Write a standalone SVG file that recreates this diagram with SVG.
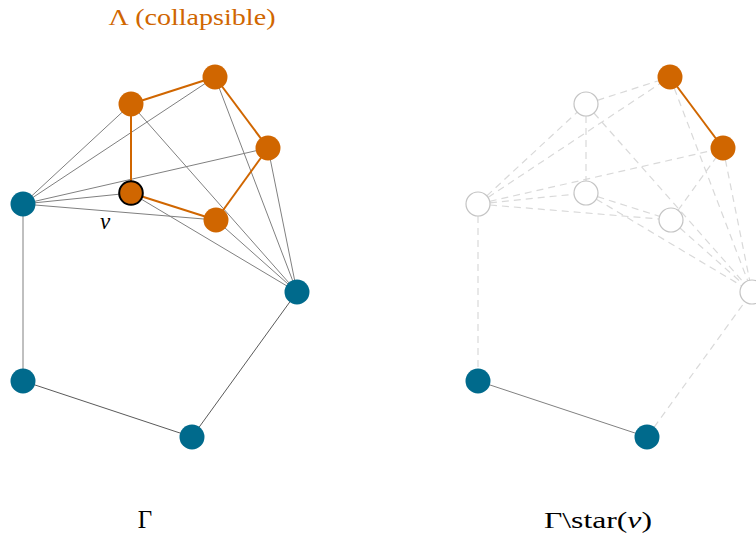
<svg xmlns="http://www.w3.org/2000/svg" width="756" height="541" viewBox="0 0 756 541">
<style>
.e{stroke:#808080;stroke-width:1;fill:none}
.ed{stroke:#5a5a5a;stroke-width:1;fill:none}
.eo{stroke:#D06600;stroke-width:2;fill:none}
.dash{stroke:#d9d9d9;stroke-width:1.2;stroke-dasharray:7 5;fill:none}
.teal{fill:#006A8C}
.or{fill:#D06600}
.ghost{fill:#ffffff;stroke:#c4c4c4;stroke-width:1.2}
.t{font-family:'Liberation Serif','Times New Roman',Times,serif;fill:#000}
</style>
<rect width="756" height="541" fill="#ffffff"/>
<g id="connectors">
<line class="e" x1="23" y1="204" x2="131" y2="104"/>
<line class="e" x1="23" y1="204" x2="215" y2="77"/>
<line class="e" x1="23" y1="204" x2="268" y2="148"/>
<line class="e" x1="23" y1="204" x2="131" y2="193"/>
<line class="e" x1="23" y1="204" x2="216" y2="220"/>
<line class="e" x1="131" y1="104" x2="297" y2="292"/>
<line class="e" x1="215" y1="77" x2="297" y2="292"/>
<line class="e" x1="268" y1="148" x2="297" y2="292"/>
<line class="e" x1="131" y1="193" x2="297" y2="292"/>
<line class="e" x1="216" y1="220" x2="297" y2="292"/>
<line class="e" x1="23" y1="204" x2="23" y2="381"/>
<line class="ed" x1="23" y1="381" x2="192" y2="437"/>
<line class="ed" x1="192" y1="437" x2="297" y2="292"/>
<line class="eo" x1="131" y1="104" x2="215" y2="77"/>
<line class="eo" x1="215" y1="77" x2="268" y2="148"/>
<line class="eo" x1="268" y1="148" x2="216" y2="220"/>
<line class="eo" x1="216" y1="220" x2="131" y2="193"/>
<line class="eo" x1="131" y1="193" x2="131" y2="104"/>
<line class="dash" x1="478" y1="204" x2="586" y2="104"/>
<line class="dash" x1="478" y1="204" x2="670" y2="77"/>
<line class="dash" x1="478" y1="204" x2="723" y2="148"/>
<line class="dash" x1="478" y1="204" x2="586" y2="193"/>
<line class="dash" x1="478" y1="204" x2="671" y2="220"/>
<line class="dash" x1="586" y1="104" x2="752" y2="292"/>
<line class="dash" x1="670" y1="77" x2="752" y2="292"/>
<line class="dash" x1="723" y1="148" x2="752" y2="292"/>
<line class="dash" x1="586" y1="193" x2="752" y2="292"/>
<line class="dash" x1="671" y1="220" x2="752" y2="292"/>
<line class="dash" x1="586" y1="104" x2="670" y2="77"/>
<line class="dash" x1="586" y1="104" x2="586" y2="193"/>
<line class="dash" x1="586" y1="193" x2="671" y2="220"/>
<line class="dash" x1="671" y1="220" x2="723" y2="148"/>
<line class="dash" x1="478" y1="204" x2="478" y2="381"/>
<line class="dash" x1="647" y1="437" x2="752" y2="292"/>
<line class="e" x1="478" y1="381" x2="647" y2="437"/>
<line class="eo" x1="670" y1="77" x2="723" y2="148"/>
</g>
<g id="left-A"><circle class="teal" cx="23" cy="204" r="12.5"/></g>
<g id="left-B"><circle class="or" cx="131" cy="104" r="12.5"/></g>
<g id="left-C"><circle class="or" cx="215" cy="77" r="12.5"/></g>
<g id="left-D"><circle class="or" cx="268" cy="148" r="12.5"/></g>
<g id="left-v"><circle class="or" cx="131" cy="193" r="11.8" stroke="#000" stroke-width="2"/></g>
<g id="left-E"><circle class="or" cx="216" cy="220" r="12.5"/></g>
<g id="left-F"><circle class="teal" cx="297" cy="292" r="12.5"/></g>
<g id="left-G"><circle class="teal" cx="23" cy="381" r="12.5"/></g>
<g id="left-H"><circle class="teal" cx="192" cy="437" r="12.5"/></g>
<g id="right-A"><circle class="ghost" cx="478" cy="204" r="12"/></g>
<g id="right-B"><circle class="ghost" cx="586" cy="104" r="12"/></g>
<g id="right-C"><circle class="or" cx="670" cy="77" r="12.5"/></g>
<g id="right-D"><circle class="or" cx="723" cy="148" r="12.5"/></g>
<g id="right-v"><circle class="ghost" cx="586" cy="193" r="12"/></g>
<g id="right-E"><circle class="ghost" cx="671" cy="220" r="12"/></g>
<g id="right-F"><circle class="ghost" cx="752" cy="292" r="12"/></g>
<g id="right-G"><circle class="teal" cx="478" cy="381" r="12.5"/></g>
<g id="right-H"><circle class="teal" cx="647" cy="437" r="12.5"/></g>
<g id="labels">
<text class="t" x="192" y="25" text-anchor="middle" font-size="23" style="fill:#D06600" textLength="167" lengthAdjust="spacingAndGlyphs">Λ (collapsible)</text>
<text class="t" x="105" y="229" text-anchor="middle" font-size="23" font-style="italic">v</text>
<text class="t" x="145" y="528" text-anchor="middle" font-size="25">Γ</text>
<text class="t" x="598" y="528" text-anchor="middle" font-size="24" textLength="108" lengthAdjust="spacingAndGlyphs">Γ\star(<tspan font-style="italic">v</tspan>)</text>
</g>
</svg>
